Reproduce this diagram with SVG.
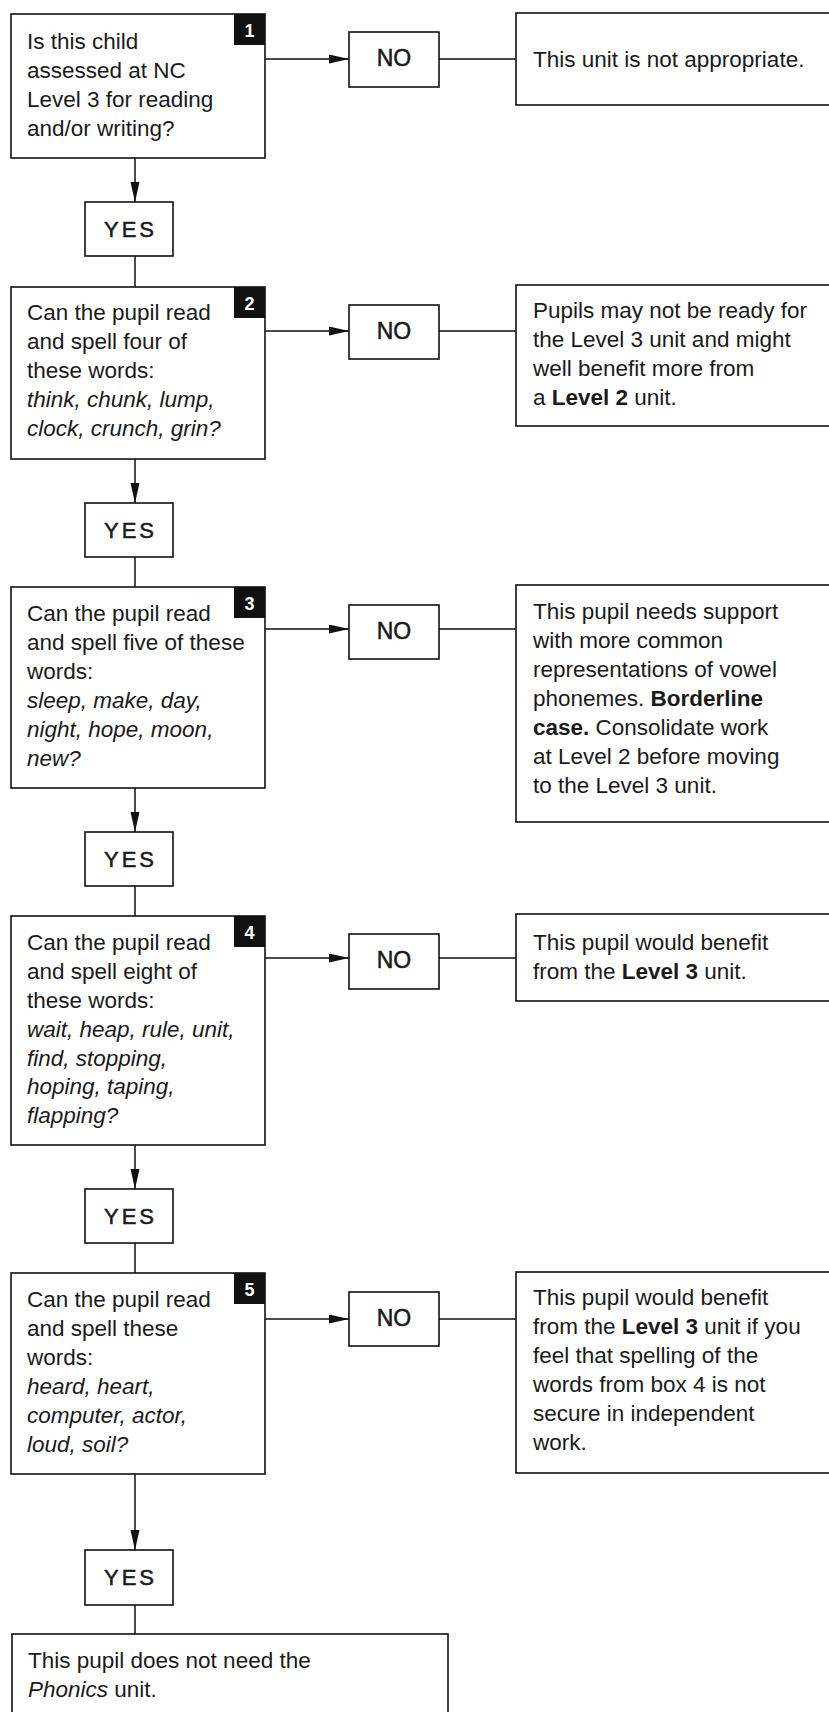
<svg xmlns="http://www.w3.org/2000/svg" width="829" height="1712" viewBox="0 0 829 1712">
<defs>
<marker id="arr" markerUnits="userSpaceOnUse" markerWidth="21" markerHeight="10" refX="20" refY="4.5" orient="auto">
<path d="M0,0 L20,4.5 L0,9 z" fill="#111"/>
</marker>
<style>
.box{fill:#fff;stroke:#111;stroke-width:1.6}
.badge{fill:#111}
.num{font-family:"Liberation Sans",Arial,sans-serif;font-size:18px;font-weight:bold;fill:#fff;text-anchor:middle}
.t{font-family:"Liberation Sans",Arial,sans-serif;font-size:22.5px;fill:#1a1a1a}
.i{font-style:italic}
.b{font-weight:bold}
.no{font-family:"Liberation Sans",Arial,sans-serif;font-size:23px;fill:#1a1a1a;stroke:#1a1a1a;stroke-width:0.5;text-anchor:middle}
.yes{font-family:"Liberation Sans",Arial,sans-serif;font-size:22px;letter-spacing:3px;fill:#1a1a1a;stroke:#1a1a1a;stroke-width:0.5;text-anchor:middle}
.c{stroke:#111;stroke-width:1.5;fill:none}
</style>
</defs>
<rect width="829" height="1712" fill="#fff"/>

<g id="connectors">
<line class="c" x1="135" y1="158" x2="135" y2="202" marker-end="url(#arr)"/>
<line class="c" x1="135" y1="256" x2="135" y2="287"/>
<line class="c" x1="135" y1="459" x2="135" y2="503" marker-end="url(#arr)"/>
<line class="c" x1="135" y1="557" x2="135" y2="587"/>
<line class="c" x1="135" y1="788" x2="135" y2="832" marker-end="url(#arr)"/>
<line class="c" x1="135" y1="886" x2="135" y2="916"/>
<line class="c" x1="135" y1="1145" x2="135" y2="1189" marker-end="url(#arr)"/>
<line class="c" x1="135" y1="1243" x2="135" y2="1273"/>
<line class="c" x1="135" y1="1474" x2="135" y2="1550" marker-end="url(#arr)"/>
<line class="c" x1="135" y1="1605" x2="135" y2="1634"/>
<line class="c" x1="265" y1="59" x2="349" y2="59" marker-end="url(#arr)"/>
<line class="c" x1="439" y1="59" x2="516" y2="59"/>
<line class="c" x1="265" y1="331" x2="349" y2="331" marker-end="url(#arr)"/>
<line class="c" x1="439" y1="331" x2="516" y2="331"/>
<line class="c" x1="265" y1="629" x2="349" y2="629" marker-end="url(#arr)"/>
<line class="c" x1="439" y1="629" x2="516" y2="629"/>
<line class="c" x1="265" y1="958" x2="349" y2="958" marker-end="url(#arr)"/>
<line class="c" x1="439" y1="958" x2="516" y2="958"/>
<line class="c" x1="265" y1="1319" x2="349" y2="1319" marker-end="url(#arr)"/>
<line class="c" x1="439" y1="1319" x2="516" y2="1319"/>
</g>

<g id="q1">
<rect class="box" x="11" y="14" width="254" height="144"/>
<rect class="badge" x="234" y="14" width="31" height="31"/>
<text class="num" x="249.5" y="37">1</text>
<text class="t" x="27" y="49">Is this child</text>
<text class="t" x="27" y="78">assessed at NC</text>
<text class="t" x="27" y="107">Level 3 for reading</text>
<text class="t" x="27" y="136">and/or writing?</text>
</g>
<g id="no1">
<rect class="box" x="349" y="32" width="90" height="55"/>
<text class="no" x="394" y="66">NO</text>
</g>
<g id="r1">
<rect class="box" x="516" y="13" width="330" height="92"/>
<text class="t" x="533" y="67">This unit is not appropriate.</text>
</g>
<g id="yes1">
<rect class="box" x="85" y="202" width="88" height="54"/>
<text class="yes" x="130.5" y="237">YES</text>
</g>

<g id="q2">
<rect class="box" x="11" y="287" width="254" height="172"/>
<rect class="badge" x="234" y="287" width="31" height="31"/>
<text class="num" x="249.5" y="310">2</text>
<text class="t" x="27" y="320">Can the pupil read</text>
<text class="t" x="27" y="349">and spell four of</text>
<text class="t" x="27" y="378">these words:</text>
<text class="t i" x="27" y="407">think, chunk, lump,</text>
<text class="t i" x="27" y="436">clock, crunch, grin?</text>
</g>
<g id="no2">
<rect class="box" x="349" y="305" width="90" height="54"/>
<text class="no" x="394" y="339">NO</text>
</g>
<g id="r2">
<rect class="box" x="516" y="285" width="330" height="141"/>
<text class="t" x="533" y="318">Pupils may not be ready for</text>
<text class="t" x="533" y="347">the Level 3 unit and might</text>
<text class="t" x="533" y="376">well benefit more from</text>
<text class="t" x="533" y="405">a <tspan class="b">Level 2</tspan> unit.</text>
</g>
<g id="yes2">
<rect class="box" x="85" y="503" width="88" height="54"/>
<text class="yes" x="130.5" y="538">YES</text>
</g>

<g id="q3">
<rect class="box" x="11" y="587" width="254" height="201"/>
<rect class="badge" x="234" y="587" width="31" height="31"/>
<text class="num" x="249.5" y="610">3</text>
<text class="t" x="27" y="621">Can the pupil read</text>
<text class="t" x="27" y="650">and spell five of these</text>
<text class="t" x="27" y="679">words:</text>
<text class="t i" x="27" y="708">sleep, make, day,</text>
<text class="t i" x="27" y="737">night, hope, moon,</text>
<text class="t i" x="27" y="766">new?</text>
</g>
<g id="no3">
<rect class="box" x="349" y="605" width="90" height="54"/>
<text class="no" x="394" y="639">NO</text>
</g>
<g id="r3">
<rect class="box" x="516" y="585" width="330" height="237"/>
<text class="t" x="533" y="619">This pupil needs support</text>
<text class="t" x="533" y="648">with more common</text>
<text class="t" x="533" y="677">representations of vowel</text>
<text class="t" x="533" y="706">phonemes. <tspan class="b">Borderline</tspan></text>
<text class="t" x="533" y="735"><tspan class="b">case.</tspan> Consolidate work</text>
<text class="t" x="533" y="764">at Level 2 before moving</text>
<text class="t" x="533" y="793">to the Level 3 unit.</text>
</g>
<g id="yes3">
<rect class="box" x="85" y="832" width="88" height="54"/>
<text class="yes" x="130.5" y="867">YES</text>
</g>

<g id="q4">
<rect class="box" x="11" y="916" width="254" height="229"/>
<rect class="badge" x="234" y="916" width="31" height="31"/>
<text class="num" x="249.5" y="939">4</text>
<text class="t" x="27" y="950">Can the pupil read</text>
<text class="t" x="27" y="979">and spell eight of</text>
<text class="t" x="27" y="1008">these words:</text>
<text class="t i" x="27" y="1037">wait, heap, rule, unit,</text>
<text class="t i" x="27" y="1066">find, stopping,</text>
<text class="t i" x="27" y="1094">hoping, taping,</text>
<text class="t i" x="27" y="1123">flapping?</text>
</g>
<g id="no4">
<rect class="box" x="349" y="934" width="90" height="55"/>
<text class="no" x="394" y="968">NO</text>
</g>
<g id="r4">
<rect class="box" x="516" y="914" width="330" height="87"/>
<text class="t" x="533" y="950">This pupil would benefit</text>
<text class="t" x="533" y="979">from the <tspan class="b">Level 3</tspan> unit.</text>
</g>
<g id="yes4">
<rect class="box" x="85" y="1189" width="88" height="54"/>
<text class="yes" x="130.5" y="1224">YES</text>
</g>

<g id="q5">
<rect class="box" x="11" y="1273" width="254" height="201"/>
<rect class="badge" x="234" y="1273" width="31" height="31"/>
<text class="num" x="249.5" y="1296">5</text>
<text class="t" x="27" y="1307">Can the pupil read</text>
<text class="t" x="27" y="1336">and spell these</text>
<text class="t" x="27" y="1365">words:</text>
<text class="t i" x="27" y="1394">heard, heart,</text>
<text class="t i" x="27" y="1423">computer, actor,</text>
<text class="t i" x="27" y="1452">loud, soil?</text>
</g>
<g id="no5">
<rect class="box" x="349" y="1292" width="90" height="54"/>
<text class="no" x="394" y="1326">NO</text>
</g>
<g id="r5">
<rect class="box" x="516" y="1272" width="330" height="201"/>
<text class="t" x="533" y="1305">This pupil would benefit</text>
<text class="t" x="533" y="1334">from the <tspan class="b">Level 3</tspan> unit if you</text>
<text class="t" x="533" y="1363">feel that spelling of the</text>
<text class="t" x="533" y="1392">words from box 4 is not</text>
<text class="t" x="533" y="1421">secure in independent</text>
<text class="t" x="533" y="1450">work.</text>
</g>
<g id="yes5">
<rect class="box" x="85" y="1550" width="88" height="55"/>
<text class="yes" x="130.5" y="1585">YES</text>
</g>

<g id="final">
<rect class="box" x="12" y="1634" width="436" height="90"/>
<text class="t" x="28" y="1668">This pupil does not need the</text>
<text class="t" x="28" y="1697"><tspan class="i">Phonics</tspan> unit.</text>
</g>
</svg>
